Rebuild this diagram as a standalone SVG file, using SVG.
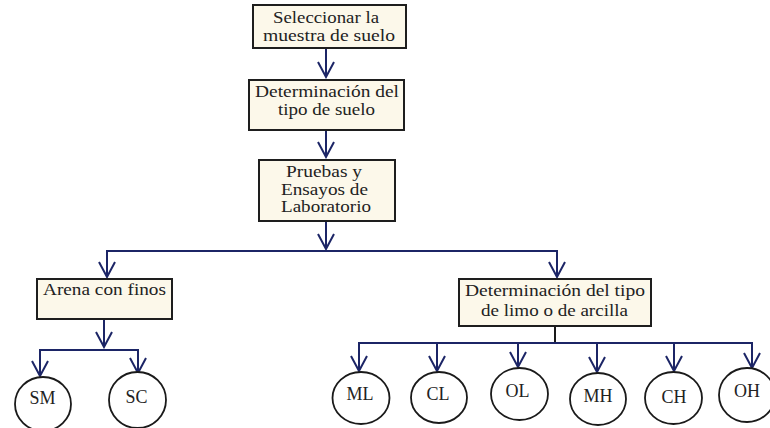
<svg xmlns="http://www.w3.org/2000/svg" width="770" height="428" viewBox="0 0 770 428">
<defs>
<style>
.box{fill:#fcf8ea;stroke:#1e1e1e;stroke-width:2}
.circ{fill:#ffffff;stroke:#1a1a1a;stroke-width:1.8}
.t{font-family:"Liberation Serif","Times New Roman",serif;font-size:16.5px;fill:#222;text-anchor:middle}
.s{font-family:"Liberation Serif","Times New Roman",serif;font-size:18px;fill:#222;text-anchor:middle}
.c{stroke:#1c2566;stroke-width:2;fill:none}
.k{stroke:#1a1a1a;stroke-width:2;fill:none}
</style>
<marker id="ah" viewBox="-17 -10 19 20" refX="0" refY="0" markerWidth="19" markerHeight="20" markerUnits="userSpaceOnUse" orient="auto">
<path d="M-15,-8 L0,0 L-15,8" fill="none" stroke="#1c2566" stroke-width="2"/>
</marker>
</defs>
<rect width="770" height="428" fill="#ffffff"/>
<g id="connectors">
<path class="c" d="M326,48 V77" marker-end="url(#ah)"/>
<path class="c" d="M326,130 V157" marker-end="url(#ah)"/>
<path class="c" d="M326,221 V249" marker-end="url(#ah)"/>
<path class="c" d="M327,251 H107 V277" marker-end="url(#ah)"/>
<path class="c" d="M325,251 H557 V277" marker-end="url(#ah)"/>
<path class="c" d="M104,319 V347" marker-end="url(#ah)"/>
<path class="c" d="M105,350 H40 V376" marker-end="url(#ah)"/>
<path class="c" d="M103,350 H138 V373" marker-end="url(#ah)"/>
<path class="k" d="M555,326 V343"/>
<path class="c" d="M556,343 H359 V371" marker-end="url(#ah)"/>
<path class="c" d="M437,343 V371" marker-end="url(#ah)"/>
<path class="c" d="M518,343 V367" marker-end="url(#ah)"/>
<path class="c" d="M597,343 V372" marker-end="url(#ah)"/>
<path class="c" d="M674,343 V371" marker-end="url(#ah)"/>
<path class="c" d="M554,343 H752 V368" marker-end="url(#ah)"/>
</g>
<g id="n1">
<rect class="box" x="253" y="5" width="153" height="43"/>
<text class="t" x="326" y="23" textLength="106" lengthAdjust="spacingAndGlyphs">Seleccionar la</text>
<text class="t" x="329" y="41" textLength="132" lengthAdjust="spacingAndGlyphs">muestra de suelo</text>
</g>
<g id="n2">
<rect class="box" x="249" y="80" width="155" height="50"/>
<text class="t" x="327" y="97" textLength="144" lengthAdjust="spacingAndGlyphs">Determinación del</text>
<text class="t" x="326.5" y="115" textLength="97" lengthAdjust="spacingAndGlyphs">tipo de suelo</text>
</g>
<g id="n3">
<rect class="box" x="259" y="160" width="136" height="61"/>
<text class="t" x="324" y="177" textLength="76" lengthAdjust="spacingAndGlyphs">Pruebas y</text>
<text class="t" x="324.5" y="194.5" textLength="87" lengthAdjust="spacingAndGlyphs">Ensayos de</text>
<text class="t" x="326" y="212" textLength="90" lengthAdjust="spacingAndGlyphs">Laboratorio</text>
</g>
<g id="n4">
<rect class="box" x="37" y="279" width="135" height="40"/>
<text class="t" x="104.5" y="295" textLength="123" lengthAdjust="spacingAndGlyphs">Arena con finos</text>
</g>
<g id="n5">
<rect class="box" x="459" y="279" width="192" height="47"/>
<text class="t" x="555" y="296" textLength="180" lengthAdjust="spacingAndGlyphs">Determinación del tipo</text>
<text class="t" x="554.5" y="316" textLength="147" lengthAdjust="spacingAndGlyphs">de limo o de arcilla</text>
</g>
<g id="SM">
<ellipse class="circ" cx="43" cy="404" rx="28" ry="27"/>
<text class="s" x="42.5" y="404">SM</text>
</g>
<g id="SC">
<ellipse class="circ" cx="137.5" cy="400" rx="28.5" ry="28"/>
<text class="s" x="136.5" y="403">SC</text>
</g>
<g id="ML">
<ellipse class="circ" cx="361" cy="398" rx="28.5" ry="26"/>
<text class="s" x="360" y="400">ML</text>
</g>
<g id="CL">
<ellipse class="circ" cx="439" cy="397.5" rx="28" ry="25.5"/>
<text class="s" x="438" y="400">CL</text>
</g>
<g id="OL">
<ellipse class="circ" cx="519.5" cy="394" rx="28.5" ry="26"/>
<text class="s" x="517.5" y="397">OL</text>
</g>
<g id="MH">
<ellipse class="circ" cx="598" cy="399" rx="28" ry="26"/>
<text class="s" x="598" y="402">MH</text>
</g>
<g id="CH">
<ellipse class="circ" cx="673.5" cy="398" rx="28.5" ry="26"/>
<text class="s" x="674" y="403">CH</text>
</g>
<g id="OH">
<ellipse class="circ" cx="747" cy="395" rx="28" ry="27"/>
<text class="s" x="747" y="397">OH</text>
</g>
</svg>
